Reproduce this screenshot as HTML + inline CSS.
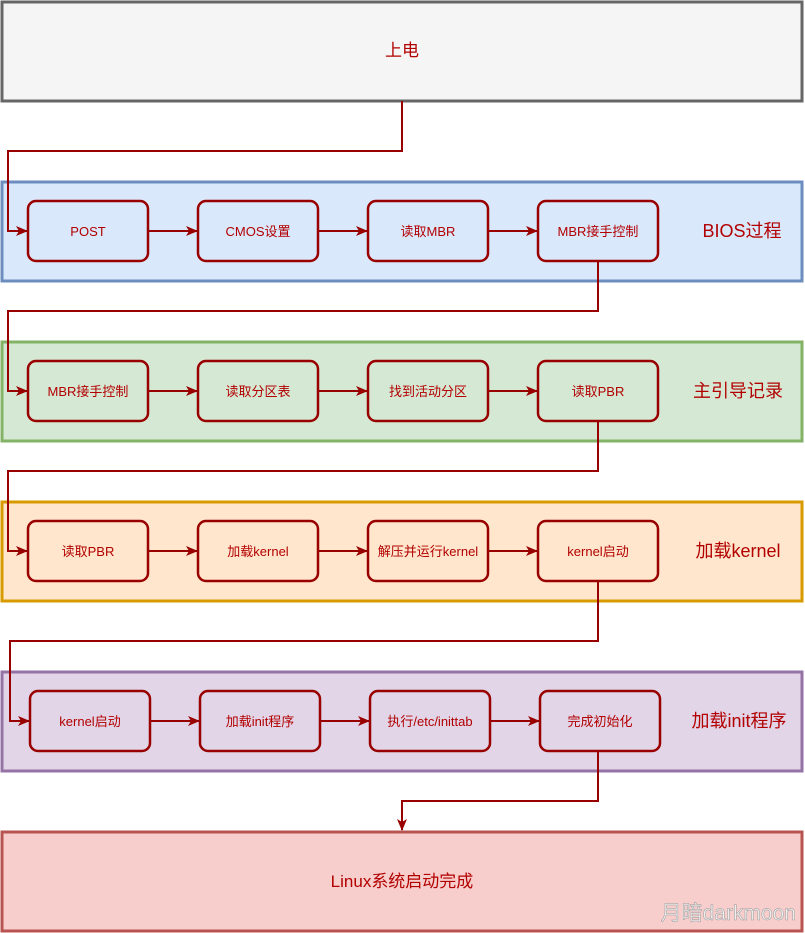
<!DOCTYPE html>
<html><head><meta charset="utf-8"><style>
html,body{margin:0;padding:0;background:#fff;}
svg{display:block;font-family:"Liberation Sans","Noto Sans CJK SC",sans-serif;}
</style></head><body>
<svg width="805" height="933" viewBox="0 0 805 933" xmlns="http://www.w3.org/2000/svg">
<defs>
<marker id="a" markerWidth="12" markerHeight="12" refX="11" refY="6" orient="auto" markerUnits="userSpaceOnUse">
<path d="M0,1 L12,6 L0,11 L3,6 z" fill="#990000"/></marker>
</defs>
<rect x="2" y="2" width="800" height="99" fill="#f5f5f5" stroke="#666" stroke-width="3"/>
<text x="402" y="56" font-size="17" fill="#b20000" text-anchor="middle">上电</text>

<rect x="2" y="182" width="800" height="99" fill="#dae8fc" stroke="#6c8ebf" stroke-width="3"/>
<rect x="2" y="342" width="800" height="99" fill="#d5e8d4" stroke="#82b366" stroke-width="3"/>
<rect x="2" y="502" width="800" height="99" fill="#ffe6cc" stroke="#d79b00" stroke-width="3"/>
<rect x="2" y="672" width="800" height="99" fill="#e1d5e7" stroke="#9673a6" stroke-width="3"/>
<rect x="2" y="832" width="800" height="99" fill="#f8cecc" stroke="#b85450" stroke-width="3"/>
<text x="402" y="887" font-size="17" fill="#b20000" text-anchor="middle">Linux系统启动完成</text>

<g font-size="18" fill="#b20000" text-anchor="middle">
<text x="742" y="237">BIOS过程</text>
<text x="738" y="397">主引导记录</text>
<text x="738" y="557">加载kernel</text>
<text x="739" y="727">加载init程序</text>
</g>

<g fill="none" stroke="#990000" stroke-width="2">
<path d="M402,101 V151 H8 V231 H27" marker-end="url(#a)"/>
<path d="M598,261 V311 H8 V391 H27" marker-end="url(#a)"/>
<path d="M598,421 V471 H8 V551 H27" marker-end="url(#a)"/>
<path d="M598,581 V641 H10 V721 H29" marker-end="url(#a)"/>
<path d="M598,751 V801 H402 V830" marker-end="url(#a)"/>
<path d="M148,231 H197" marker-end="url(#a)"/><path d="M318,231 H367" marker-end="url(#a)"/><path d="M488,231 H537" marker-end="url(#a)"/>
<path d="M148,391 H197" marker-end="url(#a)"/><path d="M318,391 H367" marker-end="url(#a)"/><path d="M488,391 H537" marker-end="url(#a)"/>
<path d="M148,551 H197" marker-end="url(#a)"/><path d="M318,551 H367" marker-end="url(#a)"/><path d="M488,551 H537" marker-end="url(#a)"/>
<path d="M150,721 H199" marker-end="url(#a)"/><path d="M320,721 H369" marker-end="url(#a)"/><path d="M490,721 H539" marker-end="url(#a)"/>
</g>

<g stroke="#990000" stroke-width="2.5">
<rect x="28" y="201" width="120" height="60" rx="8" fill="#dae8fc"/>
<rect x="198" y="201" width="120" height="60" rx="8" fill="#dae8fc"/>
<rect x="368" y="201" width="120" height="60" rx="8" fill="#dae8fc"/>
<rect x="538" y="201" width="120" height="60" rx="8" fill="#dae8fc"/>
<rect x="28" y="361" width="120" height="60" rx="8" fill="#d5e8d4"/>
<rect x="198" y="361" width="120" height="60" rx="8" fill="#d5e8d4"/>
<rect x="368" y="361" width="120" height="60" rx="8" fill="#d5e8d4"/>
<rect x="538" y="361" width="120" height="60" rx="8" fill="#d5e8d4"/>
<rect x="28" y="521" width="120" height="60" rx="8" fill="#ffe6cc"/>
<rect x="198" y="521" width="120" height="60" rx="8" fill="#ffe6cc"/>
<rect x="368" y="521" width="120" height="60" rx="8" fill="#ffe6cc"/>
<rect x="538" y="521" width="120" height="60" rx="8" fill="#ffe6cc"/>
<rect x="30" y="691" width="120" height="60" rx="8" fill="#e1d5e7"/>
<rect x="200" y="691" width="120" height="60" rx="8" fill="#e1d5e7"/>
<rect x="370" y="691" width="120" height="60" rx="8" fill="#e1d5e7"/>
<rect x="540" y="691" width="120" height="60" rx="8" fill="#e1d5e7"/>
</g>

<g font-size="13" fill="#b20000" text-anchor="middle">
<text x="88" y="236">POST</text><text x="258" y="236">CMOS设置</text><text x="428" y="236">读取MBR</text><text x="598" y="236">MBR接手控制</text>
<text x="88" y="396">MBR接手控制</text><text x="258" y="396">读取分区表</text><text x="428" y="396">找到活动分区</text><text x="598" y="396">读取PBR</text>
<text x="88" y="556">读取PBR</text><text x="258" y="556">加载kernel</text><text x="428" y="556">解压并运行kernel</text><text x="598" y="556">kernel启动</text>
<text x="90" y="726">kernel启动</text><text x="260" y="726">加载init程序</text><text x="430" y="726">执行/etc/inittab</text><text x="600" y="726">完成初始化</text>
</g>
<text x="796" y="920" font-size="21" fill="#eeeeee" stroke="#999" stroke-width="0.5" text-anchor="end">月暗darkmoon</text>
</svg>
</body></html>
